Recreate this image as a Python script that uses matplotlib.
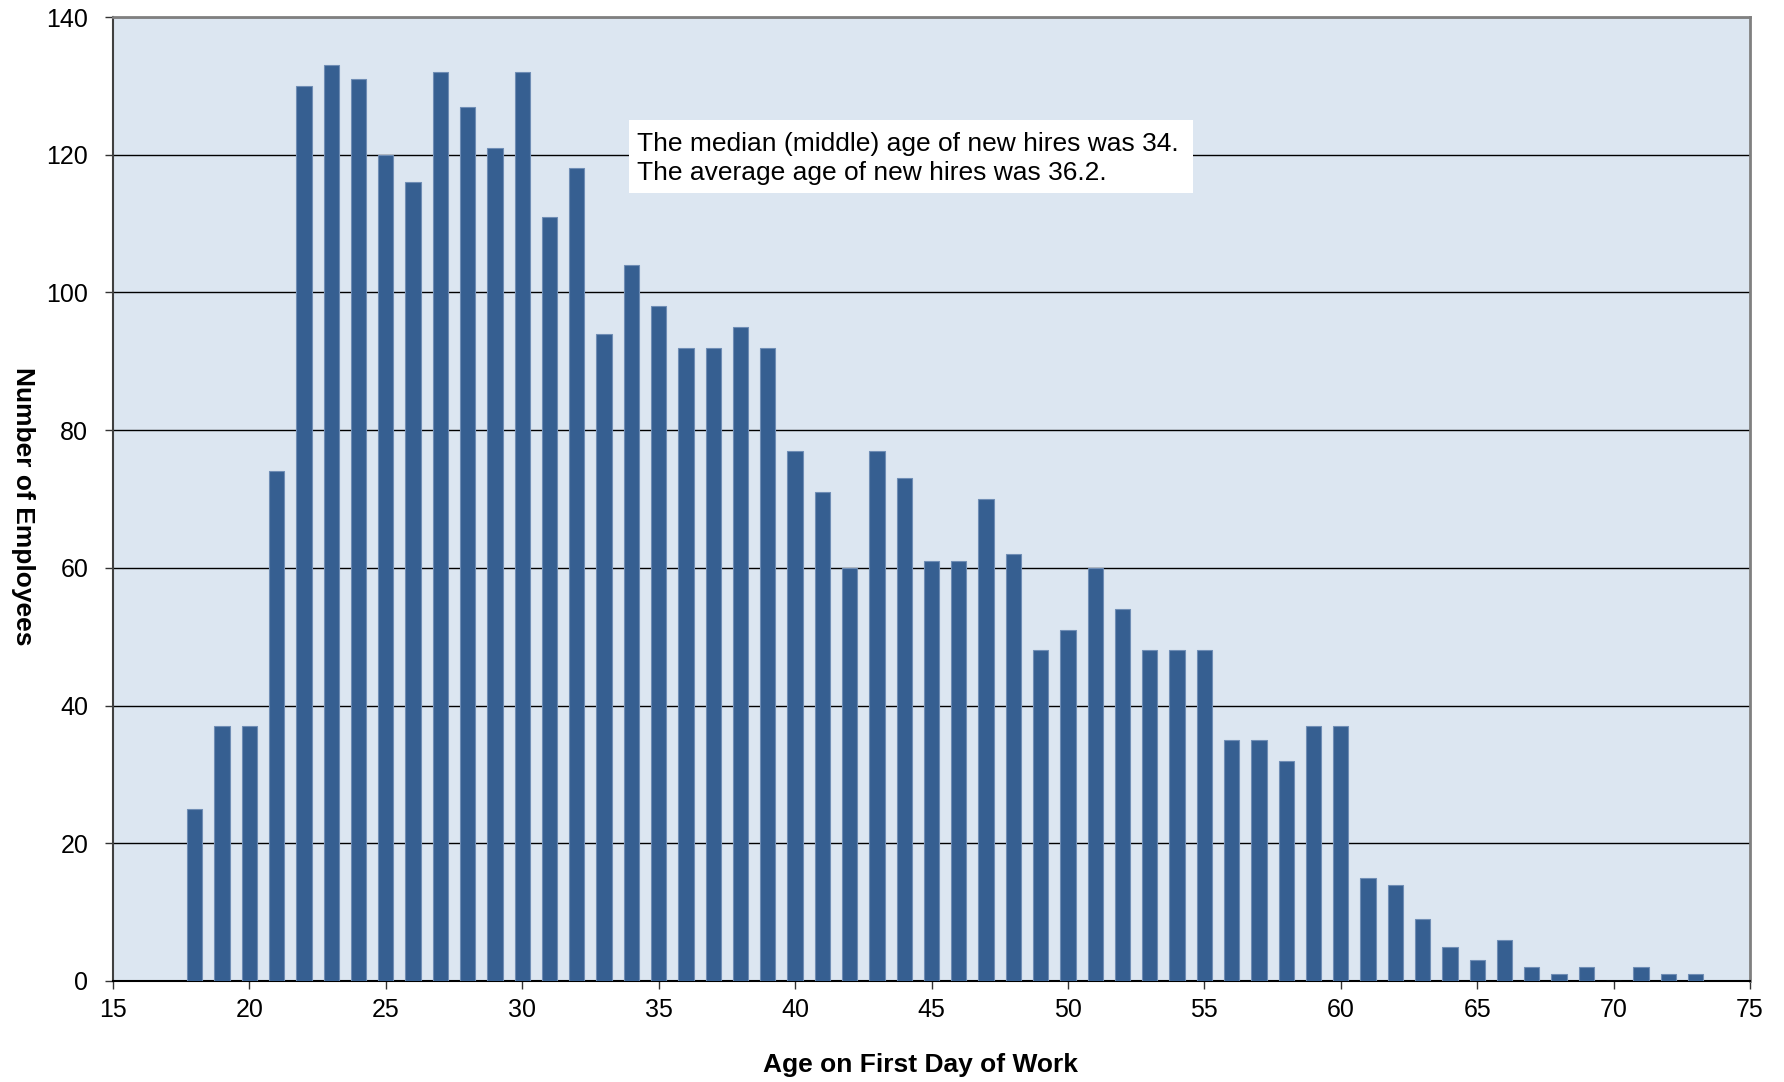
import numpy as np
import matplotlib.pyplot as plt
from matplotlib.patches import Rectangle

plt.rcParams['font.family'] = ['Liberation Sans', 'DejaVu Sans']

ages = list(range(18, 74))
counts = [25, 37, 37, 74, 130, 133, 131, 120, 116, 132, 127, 121, 132, 111, 118,
          94, 104, 98, 92, 92, 95, 92, 77, 71, 60, 77, 73, 61, 61, 70, 62, 48,
          51, 60, 54, 48, 48, 48, 35, 35, 32, 37, 37, 15, 14, 9, 5, 3, 6, 2, 1,
          2, 0, 2, 1, 1]
xticks = list(range(15, 80, 5))
yticks = list(range(0, 160, 20))
note_lines = ["The median (middle) age of new hires was 34.",
              "The average age of new hires was 36.2."]

W, H = 1784, 1082
fig = plt.figure(figsize=(W / 100, H / 100), dpi=100)
ax = fig.add_axes([113/W, 1 - 981/H, (1750-113)/W, (981-17)/H])
ax.set_facecolor('#DCE6F1')

ax.bar(ages, counts, width=0.56, color='#365F91', edgecolor='#6F8DB5',
       linewidth=0.8, zorder=3)

ax.set_xlim(15, 75)
ax.set_ylim(0, 140)
ax.set_xticks(xticks)
ax.set_yticks(yticks)
ax.grid(axis='y', color='black', linewidth=1, zorder=1)
ax.tick_params(axis='both', labelsize=18, length=5.8, width=1, direction='out', color='#333333')
ax.tick_params(axis='x', pad=6.5)
ax.tick_params(axis='y', pad=12)

for s in ['top', 'right']:
    ax.spines[s].set_color('#808080')
    ax.spines[s].set_linewidth(2)
ax.spines['left'].set_color('#404040')
ax.spines['left'].set_linewidth(1.5)
ax.spines['bottom'].set_color('black')
ax.spines['bottom'].set_linewidth(1.5)

fig.text(921/W, 1 - 1072/H, 'Age on First Day of Work', fontsize=19, fontweight='bold',
         ha='center', va='baseline')
fig.text(23/W, 1 - 506/H, 'Number of Employees', fontsize=19, fontweight='bold',
         rotation=-90, ha='center', va='center')

# annotation box
ax.add_patch(Rectangle((0.3152, 0.8174), 0.6597 - 0.3152, 0.8932 - 0.8174,
                       transform=ax.transAxes, facecolor='white', edgecolor='none', zorder=4))
ax.text(0.3201, 0.8610, note_lines[0], transform=ax.transAxes, fontsize=19,
        ha='left', va='baseline', zorder=5)
ax.text(0.3201, 0.8309, note_lines[1], transform=ax.transAxes, fontsize=19,
        ha='left', va='baseline', zorder=5)

fig.savefig('out.png', dpi=100)
